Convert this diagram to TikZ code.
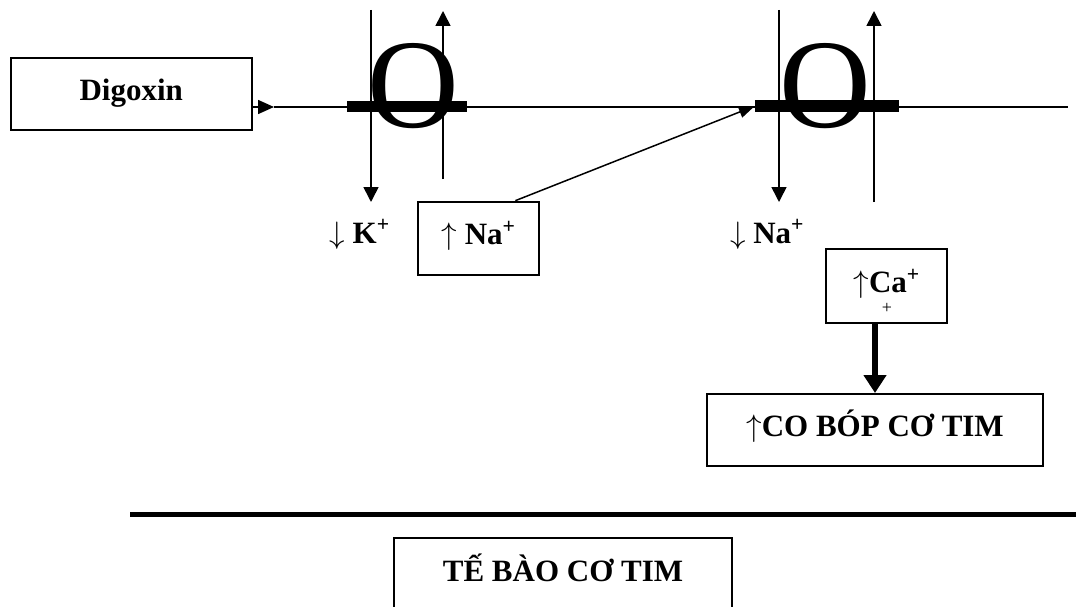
\RequirePackage{fix-cm}
\documentclass[tikz,border=0pt]{standalone}
\usepackage{fontspec}
\setmainfont{Liberation Serif}
\usetikzlibrary{arrows.meta,calc}

% thin stemmed arrows as used before the ion names
\newcommand{\ionup}{\(\uparrow\)}
\newcommand{\iondown}{\(\downarrow\)}

\tikzset{
  box/.style={draw, line width=2pt, inner sep=0pt, font=\fontsize{31}{36}\selectfont\bfseries,
              text height=23pt, text depth=10pt},
  ionlabel/.style={inner sep=0pt, anchor=base, font=\fontsize{31}{36}\selectfont\bfseries},
  pumpO/.style={inner sep=0pt, anchor=base, font=\fontsize{127}{127}\selectfont},
  pumpbar/.style={fill=black, draw=none, inner sep=0pt},
  thin/.style={line width=1.6pt},
  flow/.style={line width=1.6pt, -{Triangle[length=15pt,width=15pt]}},
  pushflow/.style={line width=1.5pt, -{Triangle[length=16pt,width=12pt]}},
  bigflow/.style={line width=6pt, -{Triangle[length=18pt,width=22pt]}}
}

\begin{document}
\begin{tikzpicture}[x=1pt,y=-1pt]
\useasboundingbox (0,0) rectangle (1076,607);

% Digoxin source box
\node[box, minimum width=241pt, minimum height=72pt] (dig) at (131.2,94) {Digoxin};

% membrane line
\coordinate (memstart) at (274,107);
\coordinate (memend) at (1068,107);

% first pump (Na/K) and second pump (Na/Ca)
\node[pumpO] (o1) at (413,128) {O};
\node[pumpO] (o2) at (825,128) {O};
\draw[thin] (memstart) -- (memend);
\draw[line width=1.6pt, -{Triangle[length=16pt,width=14pt]}] (dig.east |- memstart) -- (memstart);
\node[pumpbar, minimum width=120pt, minimum height=11pt] (bar1) at (406.7,106.2) {};
\node[pumpbar, minimum width=144pt, minimum height=12pt] (bar2) at (827,106) {};

% ion flows through the pumps
\coordinate (k1top) at (371,10);
\coordinate (k1bot) at (371,202);
\coordinate (n1bot) at (443,179);
\coordinate (n1top) at (443,11);
\coordinate (n2top) at (779,10);
\coordinate (n2bot) at (779,202);
\coordinate (c2bot) at (874,202);
\coordinate (c2top) at (874,11);
\draw[flow] (k1top) -- (k1bot);
\draw[flow] (n1bot) -- (n1top);
\draw[flow] (n2top) -- (n2bot);
\draw[flow] (c2bot) -- (c2top);

% ion labels
\node[ionlabel] (klab) at (359.5,243) {\iondown\ K\textsuperscript{+}};
\node[ionlabel] (nalab) at (767,243) {\iondown\ Na\textsuperscript{+}};

% intracellular sodium rise
\node[box, minimum width=121pt, minimum height=73.3pt] (na) at (478.5,238.3)
  {\ionup\ Na\textsuperscript{+}};
\draw[pushflow] ($(na.north east)!0.2!(na.north west)$) -- (bar2.west);

% intracellular calcium rise
\node[box, minimum width=120.5pt, minimum height=74pt] (ca) at (886.7,286)
  {\ionup Ca\textsuperscript{+}};
\node[inner sep=0pt, anchor=base, font=\fontsize{18}{20}\selectfont] (caplus) at (887,313) {+};

% contractility
\node[box, minimum width=336pt, minimum height=72pt] (cobop) at (875,430)
  {\ionup CO BÓP CƠ TIM};
\draw[bigflow] (ca.south -| cobop.north) -- (cobop.north);

% cell boundary and caption
\coordinate (wallL) at (130,514.5);
\coordinate (wallR) at (1076,514.5);
\draw[line width=5pt] (wallL) -- (wallR);
\node[box, minimum width=338pt, minimum height=74pt] (cell) at (563,575) {TẾ BÀO CƠ TIM};
\end{tikzpicture}
\end{document}
